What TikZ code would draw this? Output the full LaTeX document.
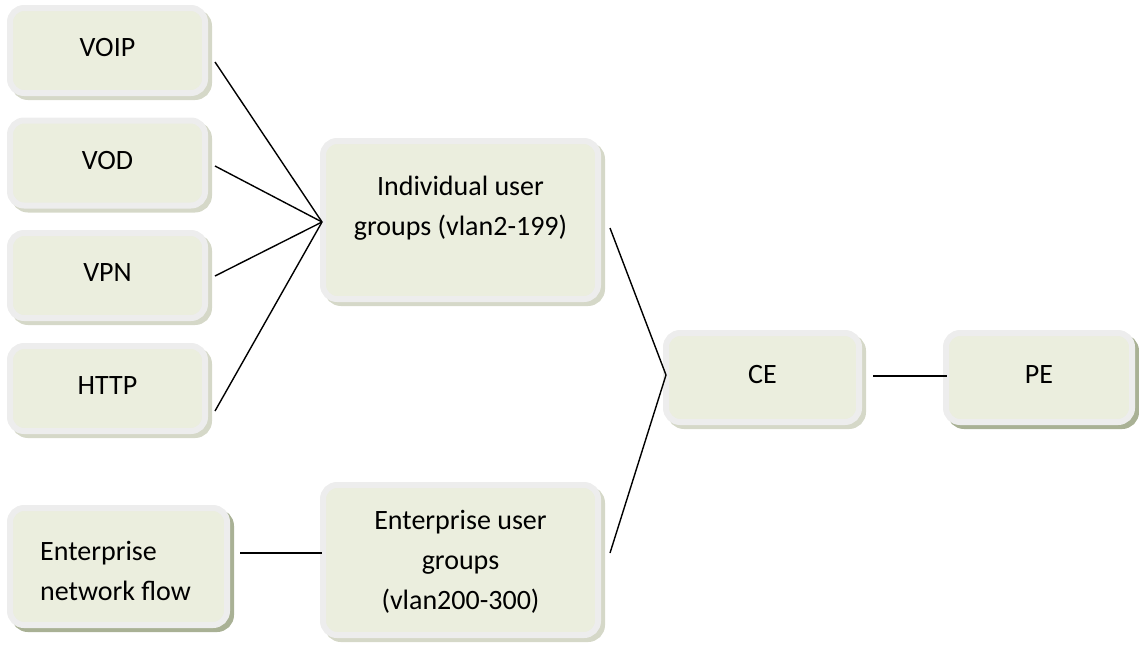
\documentclass[tikz,border=0pt]{standalone}
\usepackage{fontspec}
\setmainfont{Carlito}
\definecolor{fillc}{HTML}{EBEEDE}
\definecolor{framec}{HTML}{EDEDED}
\definecolor{shadl}{HTML}{D5D8C8}
\definecolor{shadd}{HTML}{A9B195}
\begin{document}
\begin{tikzpicture}[x=1pt,y=-1pt,
  box/.style={draw=framec, fill=fillc, line width=6pt, rounded corners=14pt,
    inner sep=0pt, text depth=6pt,
    font=\fontsize{28}{40}\selectfont,
    preaction={draw=#1, fill=#1, line width=6pt,
      transform canvas={shift={(4pt,-4pt)}}}},
  box/.default=shadl,
  txt/.style={font=\fontsize{28}{40}\selectfont, inner sep=0pt},
  conn/.style={draw=black, line width=1.4pt}]
\useasboundingbox (0,0) rectangle (1139,646);
% small boxes
\node[box, minimum width=195pt, minimum height=85pt] (voip) at (107.5,50.5) {VOIP};
\node[box, minimum width=195pt, minimum height=85pt] (vod) at (107.5,163) {VOD};
\node[box, minimum width=195pt, minimum height=85pt] (vpn) at (107.5,275.5) {VPN};
\node[box, minimum width=195pt, minimum height=85pt] (http) at (107.5,388.5) {HTTP};
\node[box=shadd, minimum width=217pt, minimum height=117pt] (enf) at (118.5,566.5) {};
\node[txt, anchor=west, align=left] (enft) at (40,571) {Enterprise\\network flow};
\node[box, minimum width=275pt, minimum height=158pt] (ind) at (460.5,220) {};
\node[txt, align=center] (indt) at (460.5,208) {Individual user\\groups (vlan2-199)};
\node[box, minimum width=275pt, minimum height=150pt] (eug) at (460.5,560) {};
\node[txt, align=center] (eugt) at (460.5,562) {Enterprise user\\groups\\(vlan200-300)};
\node[box, minimum width=193pt, minimum height=89pt] (ce) at (762.5,377.5) {CE};
\node[box=shadd, minimum width=186pt, minimum height=89pt] (pe) at (1039,377.5) {PE};
% connector ends
\coordinate (a1) at (215,62);
\coordinate (a2) at (215,166);
\coordinate (a3) at (215,276);
\coordinate (a4) at (215,411);
\coordinate (j1) at (322,222);
\coordinate (b1) at (610,228);
\coordinate (b2) at (610,553);
\coordinate (j2) at (666,375);
\coordinate (c1) at (873,376);
\coordinate (c2) at (947,376);
\coordinate (d1) at (240,553);
\coordinate (d2) at (322,553);
\draw[conn] (a1) -- (j1);
\draw[conn] (a2) -- (j1);
\draw[conn] (a3) -- (j1);
\draw[conn] (a4) -- (j1);
\draw[conn] (b1) -- (j2);
\draw[conn] (b2) -- (j2);
\draw[conn] (c1) -- (c2);
\draw[conn] (d1) -- (d2);
\end{tikzpicture}
\end{document}
